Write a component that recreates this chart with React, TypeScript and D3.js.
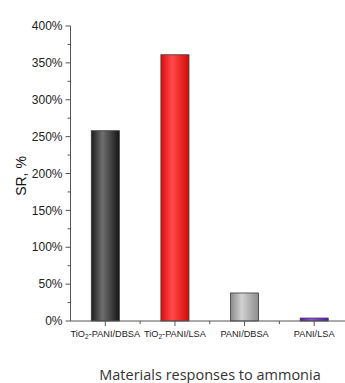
import React from "react";
import * as d3 from "d3";

const categories = ["TiO2-PANI/DBSA", "TiO2-PANI/LSA", "PANI/DBSA", "PANI/LSA"];
const values = [258, 361, 38, 4];
const yTicks = [0, 50, 100, 150, 200, 250, 300, 350, 400];
const barColors = [
  ["#1c1c1c", "#6e6e6e", "#161616"],
  ["#e00c0c", "#ff4a4a", "#d80808"],
  ["#8a8a8a", "#d2d2d2", "#8c8c8c"],
  ["#5a18b8", "#8e52e6", "#5414b0"],
];

const W = 345;
const H = 383;
const left = 70.5;
const top = 26;
const bottom = 321;
const rightEdge = 349;

export default function App() {
  const x = d3
    .scaleBand<string>()
    .domain(categories)
    .range([left, rightEdge])
    .paddingInner(0.597)
    .paddingOuter(0.2985);
  const y = d3.scaleLinear().domain([0, 400]).range([bottom, top]);
  const minorY = d3.range(25, 400, 50);
  const step = x.step();
  const minorX = categories.slice(1).map((c) => (x(c) as number) + x.bandwidth() / 2 - step / 2);

  const renderLabel = (c: string) => {
    if (c.startsWith("TiO2")) {
      return (
        <>
          TiO
          <tspan fontSize={6.5} dy={2}>2</tspan>
          <tspan dy={-2}>{c.slice(4)}</tspan>
        </>
      );
    }
    return c;
  };

  return (
    <div style={{ position: "absolute", left: 0, top: 0 }}>
      <svg width={W} height={H} style={{ display: "block", background: "#fff" }}>
        <defs>
          {barColors.map((cs, i) => (
            <linearGradient key={i} id={`bar${i}`} x1="0" x2="1" y1="0" y2="0">
              <stop offset="0%" stopColor={cs[0]} />
              <stop offset="40%" stopColor={cs[1]} />
              <stop offset="100%" stopColor={cs[2]} />
            </linearGradient>
          ))}
        </defs>

        {categories.map((c, i) => (
          <rect
            key={c}
            x={x(c)}
            y={y(values[i])}
            width={x.bandwidth()}
            height={y(0) - y(values[i])}
            fill={`url(#bar${i})`}
            stroke="#3a3a3a"
            strokeWidth={0.8}
          />
        ))}

        {/* y axis */}
        <line x1={left} x2={left} y1={top} y2={bottom} stroke="#555" strokeWidth={1} />
        {yTicks.map((t) => (
          <g key={t}>
            <line x1={left - 5} x2={left} y1={y(t)} y2={y(t)} stroke="#555" />
            <text
              x={left - 8}
              y={y(t)}
              dy="0.35em"
              textAnchor="end"
              fontFamily="Liberation Sans, Arial, sans-serif"
              fontSize={12}
              fill="#222"
            >
              {t}%
            </text>
          </g>
        ))}
        {minorY.map((t) => (
          <line key={t} x1={left - 3} x2={left} y1={y(t)} y2={y(t)} stroke="#555" />
        ))}
        <text
          transform={`translate(26,176) rotate(-90)`}
          textAnchor="middle"
          fontFamily="Liberation Sans, Arial, sans-serif"
          fontSize={14}
          fill="#111"
        >
          SR, %
        </text>

        {/* x axis */}
        <line x1={left} x2={W} y1={bottom} y2={bottom} stroke="#555" strokeWidth={1} />
        {categories.map((c) => {
          const cx = (x(c) as number) + x.bandwidth() / 2;
          return (
            <g key={c}>
              <line x1={cx} x2={cx} y1={bottom} y2={bottom + 5} stroke="#555" />
              <text
                x={cx}
                y={337}
                textAnchor="middle"
                fontFamily="Liberation Sans, Arial, sans-serif"
                fontSize={9.2}
                fill="#222"
              >
                {renderLabel(c)}
              </text>
            </g>
          );
        })}
        {minorX.map((mx, i) => (
          <line key={i} x1={mx} x2={mx} y1={bottom} y2={bottom + 3} stroke="#555" />
        ))}

        <text
          x={210}
          y={380}
          textAnchor="middle"
          fontFamily="Open Sans, sans-serif"
          fontSize={14.5}
          fill="#333"
        >
          Materials responses to ammonia
        </text>
      </svg>
    </div>
  );
}
